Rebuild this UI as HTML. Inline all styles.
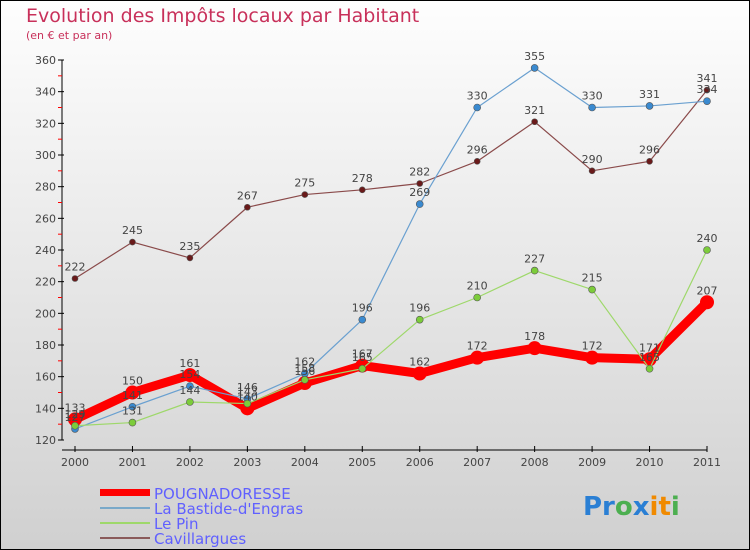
<!DOCTYPE html>
<html><head><meta charset="utf-8"><style>
body{margin:0}
#c{width:750px;height:550px;position:relative;overflow:hidden;background:linear-gradient(#fefefe,#d0d0d0);font-family:"DejaVu Sans","Liberation Sans",sans-serif}
</style></head><body>
<div id="c">
<svg id="s" width="750" height="550" style="position:absolute;left:0;top:0">
<rect x="0.5" y="0.5" width="749" height="549" fill="none" stroke="#000"/>
<text x="26" y="22" font-size="19" fill="#c8305a">Evolution des Impôts locaux par Habitant</text>
<text x="26" y="39" font-size="11" fill="#c8305a">(en € et par an)</text>
<g id="axes"></g><g id="series"></g><g id="labels"></g>
<g>
<rect x="100" y="489" width="50" height="7" fill="#f00"/>
<line x1="100" y1="508" x2="150" y2="508" stroke="#7aa9c9" stroke-width="2"/>
<line x1="100" y1="523" x2="150" y2="523" stroke="#9ed86a" stroke-width="2"/>
<line x1="100" y1="538" x2="150" y2="538" stroke="#8a5a5a" stroke-width="2"/>
<g font-size="15" fill="#6060ff">
<text x="154" y="499">POUGNADORESSE</text>
<text x="154" y="514">La Bastide-d'Engras</text>
<text x="154" y="529">Le Pin</text>
<text x="154" y="544">Cavillargues</text>
</g></g>
<text x="583" y="515" font-size="26" font-weight="bold"><tspan fill="#2a7fd4">Pr</tspan><tspan fill="#4caf50">o</tspan><tspan fill="#2a7fd4">x</tspan><tspan fill="#f08a00">it</tspan><tspan fill="#4caf50">i</tspan></text>
</svg>
</div>
<script>
const years=["2000","2001","2002","2003","2004","2005","2006","2007","2008","2009","2010","2011"];
const yTicks=[120,140,160,180,200,220,240,260,280,300,320,340,360];
const pougnadoresse=[133,150,161,140,156,167,162,172,178,172,171,207];
const bastide=[127,141,154,146,162,196,269,330,355,330,331,334];
const lepin=[129,131,144,143,158,165,196,210,227,215,165,240];
const cavillargues=[222,245,235,267,275,278,282,296,321,290,296,341];
const NS="http://www.w3.org/2000/svg";
function X(i){return 75+i*(707-75)/11}
function Y(v){return 440-(v-120)*380/240}
function mk(t,a,p){const e=document.createElementNS(NS,t);for(const k in a)e.setAttribute(k,a[k]);p.appendChild(e);return e}
const ax=document.getElementById('axes'),sg=document.getElementById('series'),lg=document.getElementById('labels');
let l=mk('line',{x1:62,y1:60,x2:62,y2:440,stroke:'#000'},ax);


l=mk('line',{x1:62,y1:450,x2:707,y2:450,stroke:'#000'},ax);


yTicks.forEach(v=>{
 mk('line',{x1:58,y1:Y(v),x2:64,y2:Y(v),stroke:'#000'},ax);
 if(v<360)mk('line',{x1:58,y1:Y(v+10),x2:62,y2:Y(v+10),stroke:'#f00'},ax);
 const t=mk('text',{x:56,y:Y(v)+4,'font-size':11,fill:'#444','text-anchor':'end'},ax);t.textContent=v;
 
 
});
years.forEach((y,i)=>{
 mk('line',{x1:X(i),y1:446,x2:X(i),y2:452,stroke:'#000'},ax);
 const t=mk('text',{x:X(i),y:466,'font-size':11,fill:'#444','text-anchor':'middle'},ax);t.textContent=y;
 
 
});
function series(d,col,dot,w,r,name){
 const p=mk('polyline',{points:d.map((v,i)=>X(i)+','+Y(v)).join(' '),fill:'none',stroke:col,'stroke-width':w,'stroke-linejoin':'round'},sg);
 
 
 d.forEach((v,i)=>{
  const c=mk('circle',{cx:X(i),cy:Y(v),r:r,fill:dot,stroke:'#555','stroke-width':r>5?0:0.6},sg);
  
  
  const t=mk('text',{x:X(i),y:Y(v)-8,'font-size':11,fill:'#444','text-anchor':'middle'},lg);t.textContent=v;
  
  
 });
}
series(cavillargues,'#8a4a4a','#6a1a1a',1.2,3,'cavillargues');
series(pougnadoresse,'#f00','#f00',9,7,'pougnadoresse');
series(bastide,'#6aa0d0','#3a8ad0',1.2,3.5,'bastide');
series(lepin,'#9ed86a','#7ccc3a',1.2,3.5,'le-pin');
</script>
</body></html>
